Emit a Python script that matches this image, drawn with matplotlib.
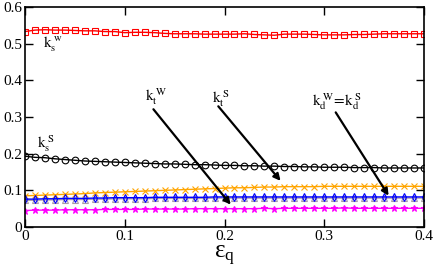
import matplotlib
matplotlib.use("Agg")
import matplotlib.pyplot as plt
import numpy as np

plt.rcParams['font.family'] = ['Liberation Serif', 'DejaVu Serif']
plt.rcParams['mathtext.fontset'] = 'stix'

eps = [i / 100 for i in range(41)]

k_sw = [0.533, 0.537, 0.538, 0.537, 0.537, 0.536, 0.535, 0.535, 0.533, 0.533,
        0.530, 0.531, 0.531, 0.530, 0.528, 0.527, 0.527, 0.527, 0.526, 0.526,
        0.526, 0.526, 0.527, 0.525, 0.524, 0.523, 0.526, 0.526, 0.526, 0.525,
        0.524, 0.524, 0.524, 0.525, 0.525, 0.526, 0.527, 0.527, 0.527, 0.527, 0.527]
k_ss = [0.193, 0.190, 0.189, 0.186, 0.184, 0.182, 0.180, 0.179, 0.178, 0.177,
        0.176, 0.175, 0.174, 0.173, 0.172, 0.172, 0.171, 0.170, 0.170, 0.169,
        0.168, 0.168, 0.167, 0.167, 0.166, 0.166, 0.165, 0.165, 0.164, 0.164,
        0.163, 0.163, 0.163, 0.162, 0.162, 0.162, 0.161, 0.161, 0.161, 0.161, 0.161]
k_ts = [0.085, 0.086, 0.087, 0.088, 0.089, 0.090, 0.091, 0.093, 0.094, 0.095,
        0.096, 0.097, 0.098, 0.099, 0.100, 0.101, 0.102, 0.103, 0.104, 0.105,
        0.106, 0.107, 0.107, 0.108, 0.109, 0.109, 0.110, 0.110, 0.110, 0.110,
        0.111, 0.111, 0.111, 0.111, 0.111, 0.111, 0.111, 0.111, 0.111, 0.111, 0.111]
k_dw = [0.076, 0.076, 0.077, 0.077, 0.078, 0.078, 0.078, 0.079, 0.079, 0.080,
        0.080, 0.080, 0.080, 0.081, 0.081, 0.081, 0.081, 0.081, 0.081, 0.082,
        0.082, 0.082, 0.082, 0.082, 0.082, 0.082, 0.082, 0.082, 0.082, 0.082,
        0.082, 0.082, 0.082, 0.082, 0.082, 0.082, 0.082, 0.082, 0.082, 0.082, 0.082]
k_ds = [0.073, 0.073, 0.074, 0.074, 0.075, 0.075, 0.075, 0.076, 0.076, 0.077,
        0.077, 0.077, 0.077, 0.078, 0.078, 0.078, 0.078, 0.078, 0.078, 0.079,
        0.079, 0.079, 0.079, 0.079, 0.079, 0.079, 0.079, 0.079, 0.079, 0.079,
        0.079, 0.079, 0.079, 0.079, 0.079, 0.079, 0.079, 0.079, 0.079, 0.079, 0.079]
k_tw = [0.045, 0.046, 0.046, 0.046, 0.047, 0.047, 0.047, 0.047, 0.048, 0.048,
        0.048, 0.048, 0.049, 0.049, 0.049, 0.049, 0.049, 0.050, 0.050, 0.050,
        0.050, 0.050, 0.050, 0.050, 0.051, 0.050, 0.051, 0.051, 0.051, 0.051,
        0.051, 0.051, 0.052, 0.051, 0.051, 0.051, 0.051, 0.051, 0.051, 0.051, 0.051]

xticks = [0, 0.1, 0.2, 0.3, 0.4]
xtick_labels = ['0', '0.1', '0.2', '0.3', '0.4']
yticks = [0, 0.1, 0.2, 0.3, 0.4, 0.5, 0.6]
ytick_labels = ['0', '0.1', '0.2', '0.3', '0.4', '0.5', '0.6']

fig = plt.figure(figsize=(4.36, 2.71), dpi=100)
ax = fig.add_axes([25/436, 44/271, 399/436, 220/271])

ms = 4
ax.plot(eps, k_sw, color='red', lw=1, marker='s', ms=ms, mfc='none', mew=0.8)
ax.plot(eps, k_ss, color='black', lw=1, marker='o', ms=ms + 0.8, mfc='none', mew=0.8)
ax.plot(eps, k_ts, color='orange', lw=1, marker='x', ms=ms, mew=0.8)
ax.plot(eps, k_ds, color='#a89aa8', lw=1, marker='^', ms=ms, mfc='none', mew=0.8)
ax.plot(eps, k_dw, color='blue', lw=1, marker='d', ms=ms, mfc='none', mew=0.8)
ax.plot(eps, k_tw, color='magenta', lw=1, marker='*', ms=ms + 1, mew=0.8)

ax.set_xlim(0, 0.4)
ax.set_ylim(0, 0.6)
ax.set_xticks(xticks)
ax.set_xticklabels(xtick_labels)
ax.set_yticks(yticks)
ax.set_yticklabels(ytick_labels)
ax.tick_params(direction='in', length=6, width=1, top=True, right=True,
               labelsize=11, pad=2)
for s in ax.spines.values():
    s.set_linewidth(1.2)

# x-axis label: epsilon with subscript q
ax.set_xlabel(r'$\mathregular{ε_q}$', fontsize=18, labelpad=1)

tfs = 11
ax.text(0.018, 0.49, r'$\mathrm{k_s^{\ w}}$', fontsize=tfs)
ax.text(0.012, 0.215, r'$\mathrm{k_s^{\ S}}$', fontsize=tfs)
ax.text(0.12, 0.345, r'$\mathrm{k_t^{\ W}}$', fontsize=tfs)
ax.text(0.187, 0.34, r'$\mathrm{k_t^{\ S}}$', fontsize=tfs)
ax.text(0.288, 0.33, r'$\mathrm{k_d^{\ W}\!=\!k_d^{\ S}}$', fontsize=tfs)

arrow = dict(arrowstyle='-|>', color='black', lw=1.6, mutation_scale=10)
ax.annotate('', xy=(0.208, 0.055), xytext=(0.127, 0.327), arrowprops=arrow)
ax.annotate('', xy=(0.258, 0.12), xytext=(0.192, 0.335), arrowprops=arrow)
ax.annotate('', xy=(0.366, 0.079), xytext=(0.31, 0.319), arrowprops=arrow)

fig.savefig('out.png', dpi=100)
